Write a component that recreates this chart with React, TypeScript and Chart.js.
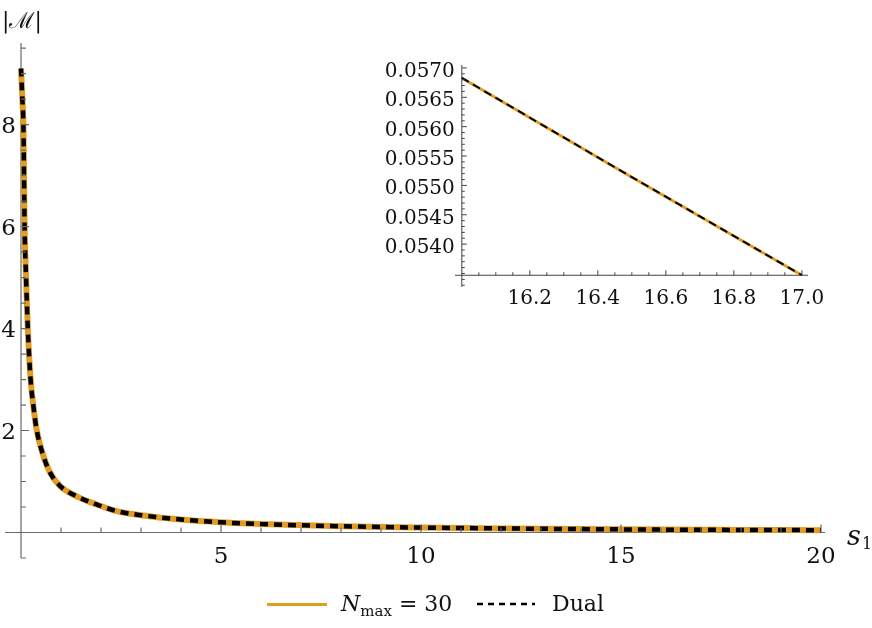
import React, { useEffect, useRef } from "react";
import { Chart, registerables } from "chart.js";

Chart.register(...registerables);

const ORANGE = "rgb(225,156,36)";
const FONT = '"DejaVu Serif", serif';

// main plot data (s1, |M|)
const S_VALUES = [0, 0.02, 0.04, 0.06, 0.075, 0.09, 0.125, 0.17, 0.24, 0.31, 0.39, 0.56, 0.73, 0.98, 1.39, 1.89, 2.39, 3, 4, 5, 6, 8, 10, 12, 14, 16, 17, 18, 20];
const NMAX_VALUES = [9.1, 8.75, 8.4, 8.0, 7.0, 6.0, 5.03, 4.01, 3.0, 2.48, 2.02, 1.5, 1.17, 0.91, 0.71, 0.55, 0.42, 0.34, 0.255, 0.2, 0.165, 0.122, 0.097, 0.08, 0.067, 0.0568, 0.0535, 0.0505, 0.0455];
const DUAL_VALUES = [9.1, 8.75, 8.4, 8.0, 7.0, 6.0, 5.03, 4.01, 3.0, 2.48, 2.02, 1.5, 1.17, 0.91, 0.71, 0.55, 0.42, 0.34, 0.255, 0.2, 0.165, 0.122, 0.097, 0.08, 0.067, 0.0568, 0.0535, 0.0505, 0.0455];

// inset data
const INSET_S = [16.0, 16.5, 17.0];
const INSET_NMAX = [0.05683, 0.05514, 0.05347];
const INSET_DUAL = [0.05683, 0.05514, 0.05347];

// tick labels
const MAIN_X_LABELS = [5, 10, 15, 20];
const MAIN_Y_LABELS = [2, 4, 6, 8];
const INSET_X_LABELS = [16.2, 16.4, 16.6, 16.8, 17.0];
const INSET_Y_LABELS = [0.054, 0.0545, 0.055, 0.0555, 0.056, 0.0565, 0.057];

const toPoints = (xs: number[], ys: number[]) => xs.map((x, i) => ({ x, y: ys[i] }));

type AxesCfg = {
  xAt: number;
  yAt: number;
  xLabels: number[];
  yLabels: number[];
  xDecimals: number;
  yDecimals: number;
  font: string;
  xLabelOffset: number;
  yLabelGap: number;
  yLabelShift: number;
  majorLen: number;
  minorLen: number;
  axisColor: string;
  tickColor: string;
  labelColor: string;
  lineWidth: number;
  extra?: (ctx: CanvasRenderingContext2D, chart: any) => void;
};

function makeAxesPlugin(cfg: AxesCfg) {
  return {
    id: "mmaAxes",
    beforeDatasetsDraw(chart: any) {
      const { ctx, chartArea: a } = chart;
      const xs = chart.scales.x;
      const ys = chart.scales.y;
      const x0 = xs.getPixelForValue(cfg.yAt);
      const y0 = ys.getPixelForValue(cfg.xAt);
      ctx.save();
      ctx.strokeStyle = cfg.axisColor;
      ctx.lineWidth = cfg.lineWidth;
      ctx.beginPath();
      ctx.moveTo(a.left, y0);
      ctx.lineTo(a.right, y0);
      ctx.moveTo(x0, a.top);
      ctx.lineTo(x0, a.bottom);
      ctx.stroke();
      ctx.restore();
    },
    afterDatasetsDraw(chart: any) {
      const { ctx } = chart;
      const xs = chart.scales.x;
      const ys = chart.scales.y;
      const x0 = xs.getPixelForValue(cfg.yAt);
      const y0 = ys.getPixelForValue(cfg.xAt);
      const xStep = xs.ticks.length > 1 ? Math.abs(xs.ticks[1].value - xs.ticks[0].value) : 1;
      const yStep = ys.ticks.length > 1 ? Math.abs(ys.ticks[1].value - ys.ticks[0].value) : 1;
      const isMajor = (v: number, arr: number[], tol: number) => arr.some((m) => Math.abs(m - v) < tol);
      ctx.save();
      ctx.strokeStyle = cfg.tickColor;
      ctx.lineWidth = cfg.lineWidth;
      ctx.beginPath();
      for (const t of xs.ticks) {
        const v = t.value;
        if (Math.abs(v - cfg.yAt) < xStep / 10) continue;
        const px = xs.getPixelForValue(v);
        const len = isMajor(v, cfg.xLabels, xStep / 10) ? cfg.majorLen : cfg.minorLen;
        ctx.moveTo(px, y0);
        ctx.lineTo(px, y0 - len);
      }
      for (const t of ys.ticks) {
        const v = t.value;
        if (Math.abs(v - cfg.xAt) < yStep / 10) continue;
        const py = ys.getPixelForValue(v);
        const len = isMajor(v, cfg.yLabels, yStep / 10) ? cfg.majorLen : cfg.minorLen;
        ctx.moveTo(x0, py);
        ctx.lineTo(x0 + len, py);
      }
      ctx.stroke();

      ctx.fillStyle = cfg.labelColor;
      ctx.font = cfg.font;
      ctx.textBaseline = "alphabetic";
      ctx.textAlign = "center";
      for (const v of cfg.xLabels) {
        ctx.fillText(v.toFixed(cfg.xDecimals), xs.getPixelForValue(v), y0 + cfg.xLabelOffset);
      }
      ctx.textAlign = "right";
      for (const v of cfg.yLabels) {
        ctx.fillText(v.toFixed(cfg.yDecimals), x0 - cfg.yLabelGap, ys.getPixelForValue(v) + cfg.yLabelShift);
      }
      if (cfg.extra) cfg.extra(ctx, chart);
      ctx.restore();
    },
  };
}

const hiddenScale = (min: number, max: number, step: number) => ({
  type: "linear" as const,
  min,
  max,
  ticks: { display: false, stepSize: step, includeBounds: false, maxTicksLimit: 1000 },
  grid: { display: false, drawTicks: false },
  border: { display: false },
});

export default function App() {
  const mainRef = useRef<HTMLCanvasElement | null>(null);
  const insetRef = useRef<HTMLCanvasElement | null>(null);

  useEffect(() => {
    document.body.style.margin = "0";
    const mainPlugin = makeAxesPlugin({
      xAt: 0,
      yAt: 0,
      xLabels: MAIN_X_LABELS,
      yLabels: MAIN_Y_LABELS,
      xDecimals: 0,
      yDecimals: 0,
      font: `23px ${FONT}`,
      xLabelOffset: 30,
      yLabelGap: 5,
      yLabelShift: 8,
      majorLen: 8,
      minorLen: 5,
      axisColor: "#6a6a6a",
      tickColor: "#6a6a6a",
      labelColor: "#111",
      lineWidth: 1.2,
      extra: (ctx) => {
        ctx.textAlign = "left";
        ctx.textBaseline = "alphabetic";
        ctx.font = `22px ${FONT}`;
        ctx.fillText("|\u2133|", 2, 28);
        ctx.font = `italic 27px ${FONT}`;
        ctx.fillText("s", 847, 545);
        ctx.font = `16px ${FONT}`;
        ctx.fillText("1", 862, 549);
      },
    });
    const main = new Chart(mainRef.current as HTMLCanvasElement, {
      type: "line",
      data: {
        datasets: [
          {
            label: "N_max = 30",
            data: toPoints(S_VALUES, NMAX_VALUES),
            borderColor: ORANGE,
            borderWidth: 6,
            pointRadius: 0,
            cubicInterpolationMode: "monotone",
            order: 2,
          },
          {
            label: "Dual",
            data: toPoints(S_VALUES, DUAL_VALUES),
            borderColor: "#000",
            borderWidth: 4.5,
            borderDash: [8, 6],
            pointRadius: 0,
            cubicInterpolationMode: "monotone",
            order: 1,
          },
        ],
      },
      options: {
        responsive: false,
        animation: false,
        events: [],
        layout: { padding: { left: 5, right: 47, top: 43, bottom: 70 } },
        plugins: { legend: { display: false }, tooltip: { enabled: false } },
        scales: {
          x: hiddenScale(-0.4, 20.1, 1),
          y: hiddenScale(-0.5, 9.6, 0.5),
        },
      } as any,
      plugins: [mainPlugin as any],
    });

    const insetPlugin = makeAxesPlugin({
      xAt: 0.05347,
      yAt: 16.0,
      xLabels: INSET_X_LABELS,
      yLabels: INSET_Y_LABELS,
      xDecimals: 1,
      yDecimals: 4,
      font: `20px ${FONT}`,
      xLabelOffset: 29,
      yLabelGap: 7,
      yLabelShift: 9,
      majorLen: 5,
      minorLen: 3,
      axisColor: "#444",
      tickColor: "#444",
      labelColor: "#111",
      lineWidth: 1,
    });
    const inset = new Chart(insetRef.current as HTMLCanvasElement, {
      type: "line",
      data: {
        datasets: [
          {
            label: "N_max = 30",
            data: toPoints(INSET_S, INSET_NMAX),
            borderColor: ORANGE,
            borderWidth: 3,
            pointRadius: 0,
            order: 2,
          },
          {
            label: "Dual",
            data: toPoints(INSET_S, INSET_DUAL),
            borderColor: "#000",
            borderWidth: 2,
            borderDash: [8, 5],
            pointRadius: 0,
            order: 1,
          },
        ],
      },
      options: {
        responsive: false,
        animation: false,
        events: [],
        layout: { padding: { left: 85, right: 42, top: 25, bottom: 33 } },
        plugins: { legend: { display: false }, tooltip: { enabled: false } },
        scales: {
          x: hiddenScale(15.98, 17.018, 0.05),
          y: hiddenScale(0.05327, 0.05705, 0.0001),
        },
      } as any,
      plugins: [insetPlugin as any],
    });

    return () => {
      main.destroy();
      inset.destroy();
    };
  }, []);

  const textStyle: React.CSSProperties = {
    position: "absolute",
    font: `22px ${FONT}`,
    color: "#111",
    whiteSpace: "nowrap",
  };

  return (
    <div style={{ position: "relative", width: 872, height: 628, background: "#fff", overflow: "hidden" }}>
      <canvas ref={mainRef} width={872} height={628} style={{ position: "absolute", left: 0, top: 0 }} />
      <canvas ref={insetRef} width={480} height={280} style={{ position: "absolute", left: 370, top: 40 }} />
      <div style={{ position: "absolute", left: 267, top: 603, width: 60, height: 3, background: ORANGE }} />
      <div style={{ ...textStyle, left: 341, top: 591 }}>
        <i>N</i>
        <sub style={{ fontSize: 15 }}>max</sub>
        {" = 30"}
      </div>
      <svg style={{ position: "absolute", left: 477, top: 599 }} width={58} height={10}>
        <line x1={0} y1={5} x2={58} y2={5} stroke="#000" strokeWidth={2.5} strokeDasharray="6 5" />
      </svg>
      <div style={{ ...textStyle, left: 552, top: 591 }}>Dual</div>
    </div>
  );
}
